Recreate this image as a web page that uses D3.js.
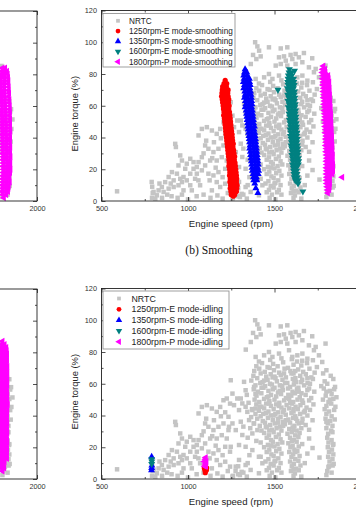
<!DOCTYPE html>
<html><head><meta charset="utf-8">
<script src="https://cdn.jsdelivr.net/npm/d3@7"></script>
<style>
body{margin:0;background:#fff}
svg{display:block}
text{font-family:"Liberation Sans",Arial,sans-serif}
</style>
</head><body>
<svg id="c" width="356" height="518"></svg>
<script>
// ---------------- DATA ----------------
const xTicks = [500, 1000, 1500, 2000];
const xMinorTicks = [750, 1250, 1750];
const yTicks = [0, 20, 40, 60, 80, 100, 120];
const yMinorTicks = [10, 30, 50, 70, 90, 110];
const seriesSmoothing = ["NRTC", "1250rpm-E mode-smoothing", "1350rpm-S mode-smoothing", "1600rpm-E mode-smoothing", "1800rpm-P mode-smoothing"];
const seriesIdling = ["NRTC", "1250rpm-E mode-idling", "1350rpm-S mode-idling", "1600rpm-E mode-idling", "1800rpm-P mode-idling"];
const xTitle = "Engine speed (rpm)";
const yTitle = "Engine torque (%)";
const captionTop = "(b) Smoothing";

// NRTC points: [rpm, torque]
const nrtc = [
 // upper scattered
 [1388,100],[1401,97.4],[1468,96.8],[1574,96.8],[1536,96.1],[1411,94.7],[1670,93.2],[1622,92.6],[1376,92],[1593,92],[1420,91.1],[1555,91.1],[1526,90.5],[1641,90.5],[1718,89.9],[1395,89.4],[1603,89.4],[1565,88.4],[1661,87.4],[1363,86.3],[1536,86.3],[1622,86.3],[1507,85.3],[1574,85.3],[1795,85.3],[1699,84.2],[1738,83.2],[1334,81.5],[1584,81.1],[1728,81.1],[1468,80],[1526,79],[1661,79],[1440,77.9],[1632,77.9],[1757,77.9],[1391,76.9],[1488,76.9],[1603,76.9],[1690,75.8],[1722,74.8],[1776,73.7],
 // dense mass
 [1395,71],[1428,73],[1460,70.5],[1492,72.5],[1518,71],[1550,73.5],[1578,70],[1610,72],[1630,74],[1655,71.5],[1688,73],[1745,70.5],
 [1383,68],[1412,69.5],[1444,67.5],[1472,70],[1497,68.5],[1527,67],[1558,69.5],[1592,68],[1610,66.5],[1637,69],[1666,67.5],[1702,69.5],[1732,67],[1800,68.5],
 [1378,65],[1420,66.5],[1452,64.5],[1478,66],[1506,63.5],[1536,65.5],[1566,64],[1598,66.5],[1621,63.5],[1649,65],[1681,66],[1713,64],[1781,66.5],[1825,65],
 [1366,62],[1400,63.5],[1431,61],[1460,62.5],[1489,64],[1514,61.5],[1546,62.5],[1574,60.5],[1606,63],[1626,61],[1660,62.5],[1691,60.5],[1722,63],[1790,61.5],[1840,63],
 [1390,59],[1418,60.5],[1446,58.5],[1474,60],[1500,57.5],[1531,59],[1560,60.5],[1590,58],[1612,59.5],[1638,57.5],[1671,59],[1705,60],[1770,58.5],[1805,60],[1850,58],
 [1380,56.5],[1404,55],[1436,57.5],[1465,55.5],[1490,56.5],[1520,54.5],[1548,56],[1578,57],[1604,55],[1630,56.5],[1656,54],[1690,56],[1730,55],[1785,57],[1820,55.5],[1845,56.5],
 [1340,53],[1396,52.5],[1424,54],[1456,51.5],[1480,53],[1510,52],[1538,53.5],[1566,51],[1597,52.5],[1618,54],[1646,51.5],[1680,53],[1712,51],[1796,52.5],[1830,53.5],[1858,51.5],
 [1385,50],[1412,48.5],[1440,50.5],[1470,49],[1500,50],[1528,48],[1556,49.5],[1585,50.5],[1608,48.5],[1633,50],[1665,48],[1700,49.5],[1780,50],[1812,48.5],[1840,50.5],
 [1395,47],[1425,45.5],[1452,47.5],[1480,46],[1510,47],[1540,45],[1570,46.5],[1600,47.5],[1622,45.5],[1650,46.5],[1685,45],[1725,47],[1800,46],[1828,47.5],[1852,45.5],
 [1370,44],[1410,43],[1440,44.5],[1465,42.5],[1495,44],[1522,42],[1555,43.5],[1585,44.5],[1610,42.5],[1635,44],[1670,42],[1705,43.5],[1790,44],[1815,42.5],[1845,43.5],
 [1390,41],[1420,39.5],[1450,41.5],[1478,40],[1505,41],[1535,39],[1565,40.5],[1598,41.5],[1620,39.5],[1648,41],[1690,40],[1800,41],[1830,39.5],
 [1400,38],[1432,36.5],[1462,38.5],[1490,37],[1520,38],[1548,36],[1580,37.5],[1608,38.5],[1632,36.5],[1662,38],[1720,37],[1795,38],[1822,36.5],[1848,37.5],
 [1380,35],[1415,33.5],[1445,35.5],[1475,34],[1502,35],[1530,33],[1560,34.5],[1590,35.5],[1615,33.5],[1640,35],[1680,34],[1808,35],[1835,33.5],
 [1360,32],[1425,30.5],[1455,32.5],[1485,31],[1512,32],[1540,30.5],[1585,31.5],[1605,32.5],[1628,30.5],[1655,32],[1700,31],[1800,32],[1828,30.5],
 [1440,29],[1468,27.5],[1495,29.5],[1525,28],[1575,28.5],[1600,29.5],[1620,27.5],[1645,29],[1810,28.5],[1835,29.5],
 [1455,26],[1480,24.5],[1508,26.5],[1535,25],[1590,26],[1612,24.5],[1638,26.5],[1700,25.5],[1805,26],[1830,24.5],
 [1420,23],[1462,21.5],[1490,23.5],[1518,22],[1545,23],[1580,22.5],[1605,21],[1628,23.5],[1660,22],[1812,23],[1838,21.5],
 [1440,20],[1470,18.5],[1500,20.5],[1528,19],[1592,20],[1615,18.5],[1640,20.5],[1720,19.5],[1808,20],[1832,18.5],
 [1455,17],[1482,15.5],[1510,17.5],[1540,16],[1585,17],[1608,15.5],[1632,17.5],[1690,16],[1815,17],[1840,15.5],
 [1420,14],[1465,12.5],[1495,14.5],[1522,13],[1598,14],[1620,12.5],[1645,14.5],[1760,13.5],[1810,14],[1835,12.5],
 [1448,11],[1478,9.5],[1505,11.5],[1535,10],[1590,11],[1612,9.5],[1638,11.5],[1675,10],[1818,11],[1842,9.5],
 [1290,8],[1468,7],[1495,8.5],[1525,7],[1600,8],[1625,6.5],[1650,8.5],[1812,7.5],[1836,8.5],
 [1275,5],[1310,4.5],[1455,5.5],[1485,4],[1515,5.5],[1540,4],[1595,5],[1618,3.5],[1640,5.5],[1805,5],[1830,4],
 [1260,2],[1300,2.5],[1340,1.5],[1472,2],[1505,1],[1610,2],[1655,1.5],[1800,2.5],
 // core fill
 [1410,74],[1475,75],[1540,76],[1600,75.5],[1660,74.5],[1440,62],[1500,64.5],[1555,66.5],[1620,68],[1690,63.5],[1425,57.5],[1485,59.5],[1545,58.5],[1615,62],[1655,61],[1390,53.5],[1465,52],[1530,55.5],[1580,53],[1640,55],[1700,57],[1415,45.5],[1470,47.5],[1525,46],[1590,48],[1660,49.5],[1435,41],[1495,40],[1550,42],[1610,44],[1675,43],[1450,33],[1520,35.5],[1565,37],[1625,38],[1660,35.5],[1470,30.5],[1550,33.5],[1610,31],[1480,21],[1600,24],[1620,17],[1500,11],[1610,6],[1820,50],[1800,36],[1840,22],[1815,8],[1800,55],
 // left slope
 [1247,62.2],[1324,61.2],[1382,58],[1333,55.9],[1257,53.8],[1285,50.7],[1305,50.7],[1314,47.6],[1266,46.5],[1333,45.5],[1391,44.4],[1295,43.4],[1372,43.4],[1343,42.3],[1353,37.1],[1305,36.1],[1257,35],[1382,35],[1237,32.9],[1276,30.8],[1401,30.8],[1372,28.7],[1314,27.7],[1295,21.4],[1247,20.3],[1333,20.3],[1372,18.2],[1410,14],[1295,12],[1430,9.9],[1333,8.8],[1276,7.8],[1362,5.7],[1410,3.6],[1257,1.5],
 [1350,48],[1365,39],[1320,33],[1345,26],[1395,24],[1355,15],[1320,4],[1290,3],[1345,10],
 // low speed
 [590,6.1],[926,36],[930,34],[955,28.7],[965,25.5],[945,22.4],[993,23.5],[1013,26.6],[1032,24.5],[984,20.3],[907,18.2],[888,15.1],[974,15.1],[917,13],[993,13],[936,17.2],[1013,17.2],[1051,17.2],[1118,17.2],[1243,17.2],[868,11.9],[965,11.9],[1166,11.9],[849,8.8],[917,8.8],[1186,8.8],[830,6.7],[974,6.7],[1022,6.7],[1138,6.7],[820,3.6],[859,5.7],[801,5.7],[888,7.8],[1243,7.8],[945,9.9],[1013,9.9],[1070,9.9],[1032,20.3],[1215,20.3],[1051,21.4],[1061,41.3],[1080,45.4],[1186,45.4],[1109,46.5],[1138,44.4],[1166,42.3],[1205,49.6],[1224,50.7],[1243,47.5],[1234,39.2],[1099,35],[1205,35],[1118,32.9],[1176,32.9],[1147,30.8],[1234,30.8],[1080,27.6],[1195,27.6],[1061,24.5],[1099,22.4],[1128,25.5],[1166,25.5],[1224,25.5],[1080,19.3],[1147,16.1],[1176,18.2],[1041,14],[1215,10.9],[811,1.5],
 [850,2],[940,2],[1130,2],[880,4],[965,4],[1090,4],[905,3],[1050,3],[1000,1],[900,11],[835,11],[955,14],[1170,3.5],[1200,1.5],[1230,5],[792,2],[796,5],[793,9],[790,12],
 [1105,38],[1150,37],[1190,39.5],[1215,42],[1125,13],[1160,21],[1200,15],[1060,13],[1090,30],[1140,27]
];

// colored series rows: [torque, rpm, rpm, ...]
const redSmooth = [
 [76,1215],[74,1208,1224],[72,1200,1222],[70,1198,1220,1232],[68,1196,1214,1230],[66,1194,1212,1232],[64,1198,1218,1236],[62,1200,1216,1234],[60,1203,1222,1238],[58,1205,1220,1236],[56,1208,1226,1240],[54,1206,1224,1242],[52,1210,1228,1244],[50,1212,1230,1246],[48,1214,1232,1248],[46,1216,1236,1250],[44,1218,1234,1252],[42,1220,1238,1255],[40,1222,1240,1256],[38,1224,1242,1258],[36,1226,1244,1262],[34,1228,1246,1260],[32,1230,1248,1264],[30,1232,1250,1266],[28,1234,1252,1270],[26,1236,1254,1268],[24,1238,1256,1272],[22,1236,1258,1274],[20,1240,1260,1276],[18,1242,1262,1278],[16,1240,1260,1280],[14,1244,1264,1282],[12,1242,1262,1280],[10,1246,1266,1284],[8,1244,1264,1282],[6,1248,1268,1280],[4,1250,1270],[3,1262]
];
const blueSmooth = [
 [83,1330],[81,1326,1340],[79,1322,1342],[77,1324,1344,1355],[75,1320,1338,1356],[73,1326,1344,1360],[71,1322,1340,1358],[69,1328,1346,1362],[67,1330,1348,1364],[65,1326,1344,1366],[63,1332,1350,1368],[61,1334,1352,1370],[59,1330,1350,1368],[57,1336,1354,1372],[55,1338,1356,1374],[53,1340,1358,1376],[51,1342,1360,1378],[49,1344,1362,1380],[47,1346,1364,1384],[45,1348,1366,1382],[43,1350,1368,1386],[41,1352,1370,1388],[39,1354,1372,1390],[37,1356,1374,1392],[35,1358,1376,1394],[33,1356,1378,1396],[31,1360,1380,1398],[29,1362,1382,1400],[27,1364,1384,1402],[25,1366,1386,1404],[23,1368,1388,1406],[21,1370,1390,1404],[19,1372,1390,1408],[17,1376,1394,1406],[15,1378,1396],[13,1380,1398],[11,1386],[8,1392],[5,1404]
];
const tealSmooth = [
 [83,1586],[82,1616],[81,1584,1598],[79,1580,1600],[77,1578,1594,1610],[75,1576,1592,1612],[73,1578,1596,1614],[71,1574,1592,1610],[70,1520],[69,1580,1598,1616],[67,1576,1594,1614],[65,1582,1600,1618],[63,1578,1596,1616],[61,1584,1602,1620],[59,1580,1600,1618],[57,1586,1604,1622],[55,1584,1602,1620],[53,1588,1606,1624],[51,1586,1604,1622],[49,1590,1608,1626],[47,1592,1610,1628],[45,1590,1608,1626],[43,1594,1612,1630],[41,1592,1610,1628],[39,1596,1614,1632],[37,1598,1616,1630],[35,1596,1614,1632],[33,1600,1618,1634],[31,1602,1620,1636],[29,1600,1618,1634],[27,1604,1622,1638],[25,1606,1624,1640],[23,1604,1622,1638],[21,1608,1626],[19,1610,1628],[17,1612,1630],[15,1614,1632],[13,1620,1636],[11,1636],[6,1664]
];
const magentaSmooth = [
 [85,1782],[83,1778,1792],[81,1776,1794],[79,1780,1798,1810],[77,1778,1796,1812],[75,1782,1800,1816],[73,1780,1798,1814],[71,1784,1802,1818],[69,1782,1800,1816],[67,1786,1804,1820],[65,1784,1802,1818],[63,1788,1806,1822],[61,1786,1804,1820],[59,1790,1808,1824],[57,1788,1806,1822],[55,1790,1808,1826],[53,1792,1810,1824],[51,1790,1808,1826],[49,1794,1812,1828],[47,1792,1810,1826],[45,1796,1814,1830],[43,1794,1812,1828],[41,1798,1816,1832],[39,1796,1814,1830],[37,1798,1816,1832],[35,1796,1814,1834],[33,1800,1818,1832],[31,1798,1816,1834],[29,1800,1818,1836],[27,1802,1820,1834],[25,1800,1818,1836],[23,1802,1820,1838],[21,1800,1818,1836],[19,1802,1820,1838],[17,1800,1818,1834],[15,1802,1820,1891],[13,1800,1818],[11,1802,1820],[9,1804,1818],[7,1806,1816],[5,1808]
];

const redIdle = [[4,1100],[5.5,1098,1106],[7,1094,1108],[8.5,1100]];
const blueIdle = [[5.5,789],[7,790],[8.5,791],[14,790]];
const tealIdle = [[9.5,790],[11,791],[12.5,790]];
const magentaIdle = [[8,1096,1104],[9.5,1100],[11,1094,1106],[12.5,1100],[13.5,1102]];

const magentaLeftTop = [
 [84,1800,1815],[82,1796,1812,1826],[80,1792,1810,1830],[78,1788,1808,1832],[76,1790,1812,1834],[74,1786,1806,1832],[72,1790,1810,1836],[70,1788,1808,1834],[68,1792,1812,1838],[66,1790,1810,1836],[64,1794,1814,1840],[62,1792,1812,1838],[60,1796,1816,1842],[58,1794,1814,1840],[56,1796,1818,1843],[54,1794,1816,1840],[52,1798,1818,1844],[50,1796,1816,1841],[48,1798,1820,1844],[46,1796,1818,1842],[44,1800,1820,1845],[42,1798,1818,1842],[40,1800,1822,1844],[38,1798,1820,1840],[36,1802,1822,1843],[34,1800,1820,1845],[32,1802,1824,1842],[30,1800,1822,1844],[28,1804,1824,1846],[26,1802,1822,1842],[24,1804,1826,1845],[22,1802,1824,1843],[20,1806,1826,1846],[18,1804,1824,1844],[16,1802,1822,1840],[14,1800,1820,1838],[12,1802,1822,1842],[10,1798,1818,1836],[8,1800,1820,1834],[6,1796,1816,1832],[4,1800,1822],[2,1808]
];
const magentaLeftBottom = [
 [87,1800],[85,1796,1812],[83,1792,1810,1822],[81,1790,1808,1824],[79,1794,1812,1826],[77,1790,1808,1824],[75,1792,1810,1826],[73,1790,1808,1824],[71,1794,1812,1828],[69,1790,1808,1826],[67,1792,1810,1828],[65,1790,1808,1824],[63,1794,1812,1828],[61,1792,1810,1826],[59,1794,1812,1828],[57,1790,1808,1824],[55,1792,1810,1826],[53,1794,1812,1828],[51,1790,1808,1826],[49,1792,1810,1828],[47,1794,1812,1830],[45,1790,1808,1826],[43,1792,1810,1828],[41,1794,1812,1826],[39,1790,1808,1824],[37,1792,1810,1826],[35,1794,1812,1828],[33,1790,1808,1824],[31,1792,1810,1826],[29,1794,1812,1828],[27,1790,1808,1824],[25,1792,1810,1826],[23,1794,1812,1828],[21,1790,1808,1824],[19,1792,1810,1826],[17,1794,1812,1826],[15,1790,1808,1824],[13,1792,1810,1826],[11,1794,1812],[9,1790,1808],[7,1792,1810],[5,1800]
];

const colors = ["#c4c4c4", "#ff0000", "#0000ff", "#008080", "#ff00ff"];

// ---------------- DRAW ----------------
const svg = d3.select("#c");
svg.append("rect").attr("width", 356).attr("height", 518).attr("fill", "#fff");

const expandRows = rows => rows.flatMap(r => r.slice(1).map(v => [v, r[0]]));

const shapes = [
  {type: d3.symbolSquare, size: 20, rot: 0},
  {type: d3.symbolCircle, size: 21, rot: 0},
  {type: d3.symbolTriangle, size: 21, rot: 0},
  {type: d3.symbolTriangle, size: 21, rot: 180},
  {type: d3.symbolTriangle, size: 21, rot: -90}
];

function drawPoints(g, x, y, pts, idx) {
  const s = shapes[idx];
  const path = d3.symbol().type(s.type).size(s.size)();
  g.append("g").selectAll("path").data(pts).join("path")
    .attr("d", path)
    .attr("transform", d => `translate(${x(d[0])},${y(d[1])}) rotate(${s.rot})`)
    .attr("fill", colors[idx]);
}

function drawPanel(cfg) {
  const x = d3.scaleLinear().domain([500, 2000]).range(cfg.xr);
  const y = d3.scaleLinear().domain([0, 120]).range(cfg.yr);
  const g = svg.append("g");
  cfg.sets.forEach(([pts, idx]) => drawPoints(g, x, y, pts, idx));

  const axes = g.append("g");
  axes.append("g").attr("transform", `translate(0,${cfg.yr[0]})`)
    .call(d3.axisBottom(x).tickValues(xTicks).tickSize(-4).tickPadding(4.5).tickFormat(cfg.xLabels ? d3.format("d") : ""));
  axes.append("g").attr("transform", `translate(0,${cfg.yr[0]})`)
    .call(d3.axisBottom(x).tickValues(xMinorTicks).tickSize(-2).tickFormat(""));
  axes.append("g").attr("transform", `translate(0,${cfg.yr[1]})`)
    .call(d3.axisTop(x).tickValues(xTicks).tickSize(-4).tickFormat(""));
  axes.append("g").attr("transform", `translate(0,${cfg.yr[1]})`)
    .call(d3.axisTop(x).tickValues(xMinorTicks).tickSize(-2).tickFormat(""));
  axes.append("g").attr("transform", `translate(${cfg.xr[0]},0)`)
    .call(d3.axisLeft(y).tickValues(yTicks).tickSize(-4).tickPadding(4.5).tickFormat(cfg.yLabels ? d3.format("d") : ""));
  axes.append("g").attr("transform", `translate(${cfg.xr[0]},0)`)
    .call(d3.axisLeft(y).tickValues(yMinorTicks).tickSize(-2).tickFormat(""));
  axes.append("g").attr("transform", `translate(${cfg.xr[1]},0)`)
    .call(d3.axisRight(y).tickValues(yTicks).tickSize(-4).tickFormat(""));
  axes.append("g").attr("transform", `translate(${cfg.xr[1]},0)`)
    .call(d3.axisRight(y).tickValues(yMinorTicks).tickSize(-2).tickFormat(""));
  axes.selectAll(".domain").remove();
  axes.selectAll(".tick line").attr("stroke", "#222").attr("stroke-width", 0.8);
  axes.selectAll(".tick text").attr("font-size", "7.3px").attr("font-family", null).attr("fill", "#333");

  g.append("rect")
    .attr("x", cfg.xr[0]).attr("y", cfg.yr[1])
    .attr("width", cfg.xr[1] - cfg.xr[0]).attr("height", cfg.yr[0] - cfg.yr[1])
    .attr("fill", "none").attr("stroke", "#222").attr("stroke-width", 0.9);

  if (cfg.titles) {
    g.append("text").attr("x", 231).attr("y", cfg.yr[0] + 26)
      .attr("text-anchor", "middle").attr("font-size", "9.6px").attr("fill", "#222").text(xTitle);
    const cy = (cfg.yr[0] + cfg.yr[1]) / 2 + 8;
    g.append("text").attr("transform", `translate(78,${cy}) rotate(-90)`)
      .attr("text-anchor", "middle").attr("font-size", "9.4px").attr("fill", "#222").text(yTitle);
  }

  if (cfg.legend) {
    const L = cfg.legend;
    const lg = g.append("g");
    lg.append("rect").attr("x", L.x).attr("y", L.y).attr("width", L.w).attr("height", L.h)
      .attr("fill", "#fff").attr("stroke", "#888").attr("stroke-width", 0.8);
    L.names.forEach((n, i) => {
      const yy = L.y0 + i * L.dy;
      const s = shapes[i];
      lg.append("path").attr("d", d3.symbol().type(s.type).size(i === 0 ? 14 : 18)())
        .attr("transform", `translate(${L.mx},${yy}) rotate(${s.rot})`).attr("fill", colors[i]);
      lg.append("text").attr("x", L.tx).attr("y", yy).attr("dy", "0.35em")
        .attr("font-size", L.fs).attr("fill", "#222").text(n);
    });
  }
}

// right top: smoothing
drawPanel({
  xr: [101.5, 361], yr: [201, 10.5], xLabels: true, yLabels: true, titles: true,
  sets: [[nrtc, 0], [expandRows(redSmooth), 1], [expandRows(blueSmooth), 2], [expandRows(tealSmooth), 3], [expandRows(magentaSmooth), 4]],
  legend: {x: 103, y: 13.5, w: 132, h: 53.5, y0: 20.8, dy: 10.25, mx: 118, tx: 129, fs: "8.2px", names: seriesSmoothing}
});
// right bottom: idling
drawPanel({
  xr: [101.5, 361], yr: [479, 288.5], xLabels: true, yLabels: true, titles: true,
  sets: [[nrtc, 0], [expandRows(redIdle), 1], [expandRows(blueIdle), 2], [expandRows(tealIdle), 3], [expandRows(magentaIdle), 4]],
  legend: {x: 103, y: 291, w: 126, h: 58, y0: 298.5, dy: 10.8, mx: 119, tx: 131.5, fs: "8.8px", names: seriesIdling}
});
// left partial panels
drawPanel({
  xr: [37 - 259.5, 37], yr: [201, 11], xLabels: true, yLabels: false, titles: false,
  sets: [[nrtc, 0], [expandRows(magentaLeftTop), 4]]
});
drawPanel({
  xr: [37 - 259.5, 37], yr: [479, 289], xLabels: true, yLabels: false, titles: false,
  sets: [[nrtc, 0], [expandRows(magentaLeftBottom), 4]]
});

svg.append("text").attr("x", 219).attr("y", 253.5).attr("text-anchor", "middle")
  .style("font-family", "'Liberation Serif', 'Times New Roman', serif").attr("font-size", "11.6px")
  .attr("fill", "#111").text(captionTop);
</script>
</body></html>
